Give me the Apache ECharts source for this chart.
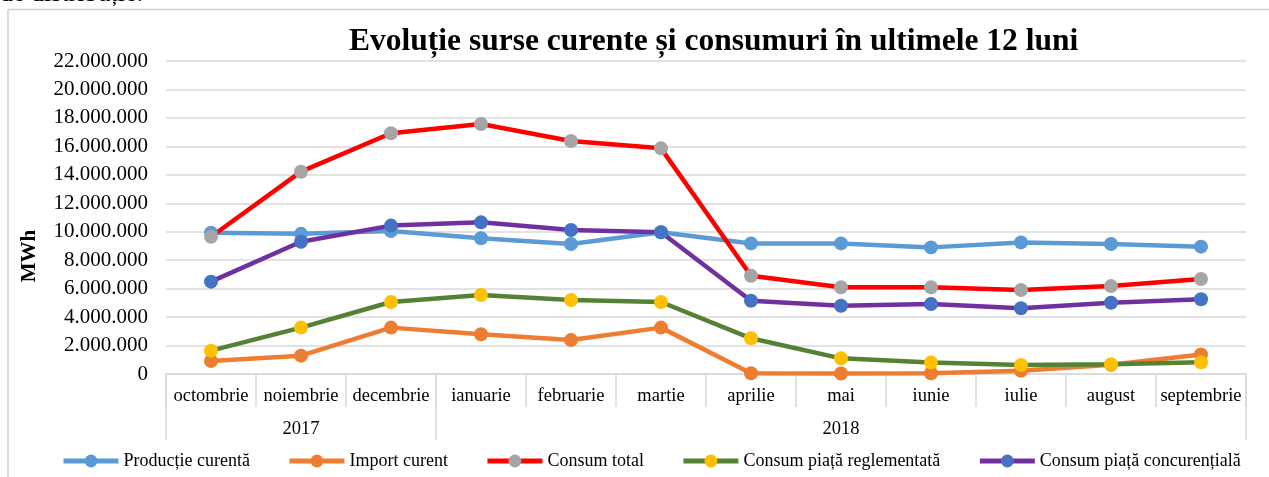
<!DOCTYPE html>
<html>
<head>
<meta charset="utf-8">
<script src="https://cdn.jsdelivr.net/npm/echarts@6/dist/echarts.min.js"></script>
<style>
  html, body { margin: 0; padding: 0; background: #fff; }
  #main { width: 1269px; height: 477px; }
</style>
</head>
<body>
<div id="main"></div>
<script>
// categories
var months = ['octombrie', 'noiembrie', 'decembrie', 'ianuarie', 'februarie', 'martie',
    'aprilie', 'mai', 'iunie', 'iulie', 'august', 'septembrie'];
var years = ['2017', '2018'];
var yearSpans = [3, 9];

// values in MWh
var productieCurenta = [9930000, 9850000, 10050000, 9540000, 9140000, 9960000,
    9180000, 9180000, 8900000, 9250000, 9140000, 8950000];
var importCurent = [910000, 1290000, 3260000, 2790000, 2390000, 3260000,
    50000, 30000, 50000, 230000, 650000, 1370000];
var consumTotal = [9650000, 14220000, 16920000, 17570000, 16380000, 15860000,
    6910000, 6090000, 6090000, 5900000, 6180000, 6680000];
var consumReglementata = [1640000, 3260000, 5060000, 5550000, 5200000, 5060000,
    2510000, 1100000, 800000, 630000, 680000, 820000];
var consumConcurentiala = [6490000, 9300000, 10430000, 10660000, 10120000, 9960000,
    5150000, 4800000, 4920000, 4620000, 5010000, 5250000];

var yTicks = { min: 0, max: 22000000, interval: 2000000 };

var FONT = '"Liberation Serif", "Times New Roman", serif';
var GRID = '#d9d9d9';

// year row: label under the middle month of each group, dividers at group edges
var yearRow = months.map(function () { return ''; });
var yearEdges = [0];
var start = 0;
for (var i = 0; i < years.length; i++) {
    yearRow[start + Math.floor(yearSpans[i] / 2)] = years[i];
    start += yearSpans[i];
    yearEdges.push(start);
}

function fmt(v) {
    return String(v).replace(/\B(?=(\d{3})+(?!\d))/g, '.');
}

function makeLine(name, values, lineColor, markColor) {
    return {
        name: name,
        type: 'line',
        data: values,
        symbol: 'circle',
        symbolSize: 14,
        lineStyle: { color: lineColor, width: 4.5 },
        itemStyle: { color: markColor },
        emphasis: { disabled: true },
        animation: false
    };
}

var chart = echarts.init(document.getElementById('main'));

var option = {
    backgroundColor: '#fff',
    animation: false,
    title: {
        text: 'Evoluție surse curente și consumuri în ultimele 12 luni',
        left: 344,
        top: 21,
        textStyle: { fontFamily: FONT, fontSize: 31.5, fontWeight: 'bold', color: '#000' }
    },
    legend: {
        left: 56,
        top: 447,
        width: 1210,
        itemWidth: 55,
        itemHeight: 16,
        itemGap: 37,
        lineStyle: { width: 5 },
        textStyle: { fontFamily: FONT, fontSize: 18, color: '#000' },
        data: ['Producție curentă', 'Import curent', 'Consum total',
            'Consum piață reglementată', 'Consum piață concurențială']
    },
    grid: { left: 166, right: 23, top: 61, bottom: 103, containLabel: false },
    xAxis: [{
        type: 'category',
        data: months,
        boundaryGap: true,
        axisLine: { lineStyle: { color: GRID, width: 1.5 } },
        axisTick: { show: true, interval: 0, length: 33, lineStyle: { color: GRID, width: 1.5 } },
        axisLabel: { interval: 0, margin: 13, fontFamily: FONT, fontSize: 18.5, color: '#000' }
    }, {
        type: 'category',
        data: yearRow,
        position: 'bottom',
        offset: 33,
        boundaryGap: true,
        axisLine: { show: false },
        axisTick: { show: false },
        axisLabel: { interval: 0, margin: 13, fontFamily: FONT, fontSize: 18.5, color: '#000' }
    }],
    yAxis: {
        type: 'value',
        min: yTicks.min,
        max: yTicks.max,
        interval: yTicks.interval,
        axisLine: { show: false },
        axisTick: { show: false },
        splitLine: { lineStyle: { color: GRID, width: 1.5 } },
        axisLabel: { margin: 18, fontFamily: FONT, fontSize: 21, color: '#000', formatter: fmt }
    },
    graphic: [
        { type: 'line', shape: { x1: 8, y1: 9.5, x2: 1269, y2: 9.5 }, style: { stroke: '#d0d0d0', lineWidth: 1.5 } },
        { type: 'line', shape: { x1: 8, y1: 9.5, x2: 8, y2: 477 }, style: { stroke: '#d0d0d0', lineWidth: 1.5 } },
        { type: 'text', left: 0, top: -19, style: { text: 'de distribuție.', font: '26px ' + FONT, fill: '#000' } },
        { type: 'text', x: 30, y: 256, rotation: Math.PI / 2,
          style: { text: 'MWh', font: 'bold 21px ' + FONT, fill: '#000', align: 'center', verticalAlign: 'middle' } }
    ],
    series: [
        makeLine('Producție curentă', productieCurenta, '#5B9BD5', '#5B9BD5'),
        makeLine('Import curent', importCurent, '#ED7D31', '#ED7D31'),
        makeLine('Consum total', consumTotal, '#FF0000', '#A5A5A5'),
        makeLine('Consum piață reglementată', consumReglementata, '#548235', '#FFC000'),
        makeLine('Consum piață concurențială', consumConcurentiala, '#7030A0', '#4472C4'),
        {
            // year dividers under the month row
            type: 'custom',
            silent: true,
            clip: false,
            z: 1,
            data: yearEdges.map(function (e) { return [e]; }),
            encode: { x: -1, y: -1 },
            renderItem: function (params, api) {
                var edge = api.value(0);
                var band = api.size([1, 0])[0];
                var idx = Math.min(edge, months.length - 1);
                var p = api.coord([idx, 0]);
                var x = p[0] + (edge >= months.length ? 0.5 : -0.5) * band;
                return {
                    type: 'line',
                    shape: { x1: x, y1: p[1], x2: x, y2: p[1] + 66 },
                    style: { stroke: GRID, lineWidth: 1.5 }
                };
            }
        }
    ]
};

chart.setOption(option);
</script>
</body>
</html>
